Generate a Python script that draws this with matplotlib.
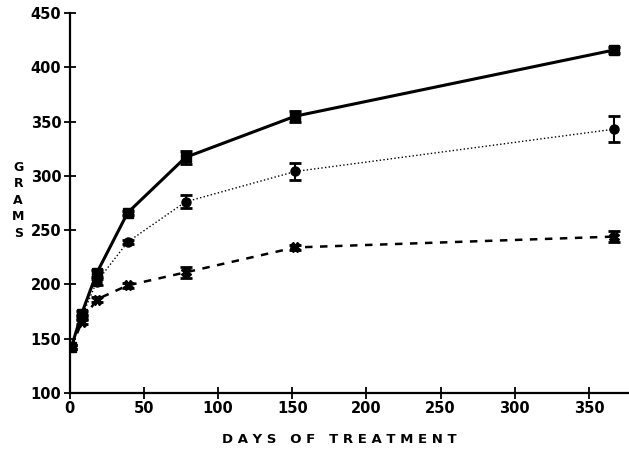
import numpy as np
import matplotlib
matplotlib.use('Agg')
import matplotlib.pyplot as plt

# days of treatment
days = [1, 8, 18, 39, 78, 152, 367]

# grams, three groups
sq_vals = [142, 173, 210, 266, 317, 355, 416]
sq_err = [2, 2, 3, 2, 6, 5, 3]
ci_vals = [142, 170, 202, 239, 276, 304, 343]
ci_err = [2, 2, 3, 2, 6, 8, 12]
x_vals = [142, 165, 186, 199, 211, 234, 244]
x_err = [2, 2, 2, 2, 5, 2, 5]

yticks = [100, 150, 200, 250, 300, 350, 400, 450]
xticks = [0, 50, 100, 150, 200, 250, 300, 350]

fig = plt.figure(figsize=(6.29, 4.51), dpi=100)
ax = fig.add_axes([0.111, 0.129, 0.889, 0.842])

ax.errorbar(days, sq_vals, yerr=sq_err, color='black', linestyle='-', linewidth=2.2,
            marker='s', markersize=7.5, capsize=4, elinewidth=1.5, capthick=2)
ax.errorbar(days, ci_vals, yerr=ci_err, color='black', linestyle=':', linewidth=1.0,
            marker='o', markersize=6.5, capsize=4, elinewidth=1.5, capthick=2)
ax.errorbar(days, x_vals, yerr=x_err, color='black', linestyle=(0, (3, 3)), linewidth=1.8,
            marker='X', markersize=7, capsize=4, elinewidth=1.5, capthick=2)

ax.set_xlim(0, 377)
ax.set_ylim(100, 450)
ax.set_xticks(xticks)
ax.set_yticks(yticks)
ax.spines['top'].set_visible(False)
ax.spines['right'].set_visible(False)
ax.spines['left'].set_linewidth(1.6)
ax.spines['bottom'].set_linewidth(1.6)
ax.tick_params(direction='inout', length=8, width=1.3, labelsize=10.5, pad=2)
for lab in ax.get_xticklabels() + ax.get_yticklabels():
    lab.set_fontweight('bold')

fig.text(0.54, 0.012, 'D A Y S   O F   T R E A T M E N T', ha='center', va='bottom',
         fontsize=9.5, fontweight='bold')
fig.text(0.029, 0.556, 'G\nR\nA\nM\nS', ha='center', va='center',
         fontsize=9, fontweight='bold', linespacing=1.35)

fig.savefig('out.png', dpi=100)
